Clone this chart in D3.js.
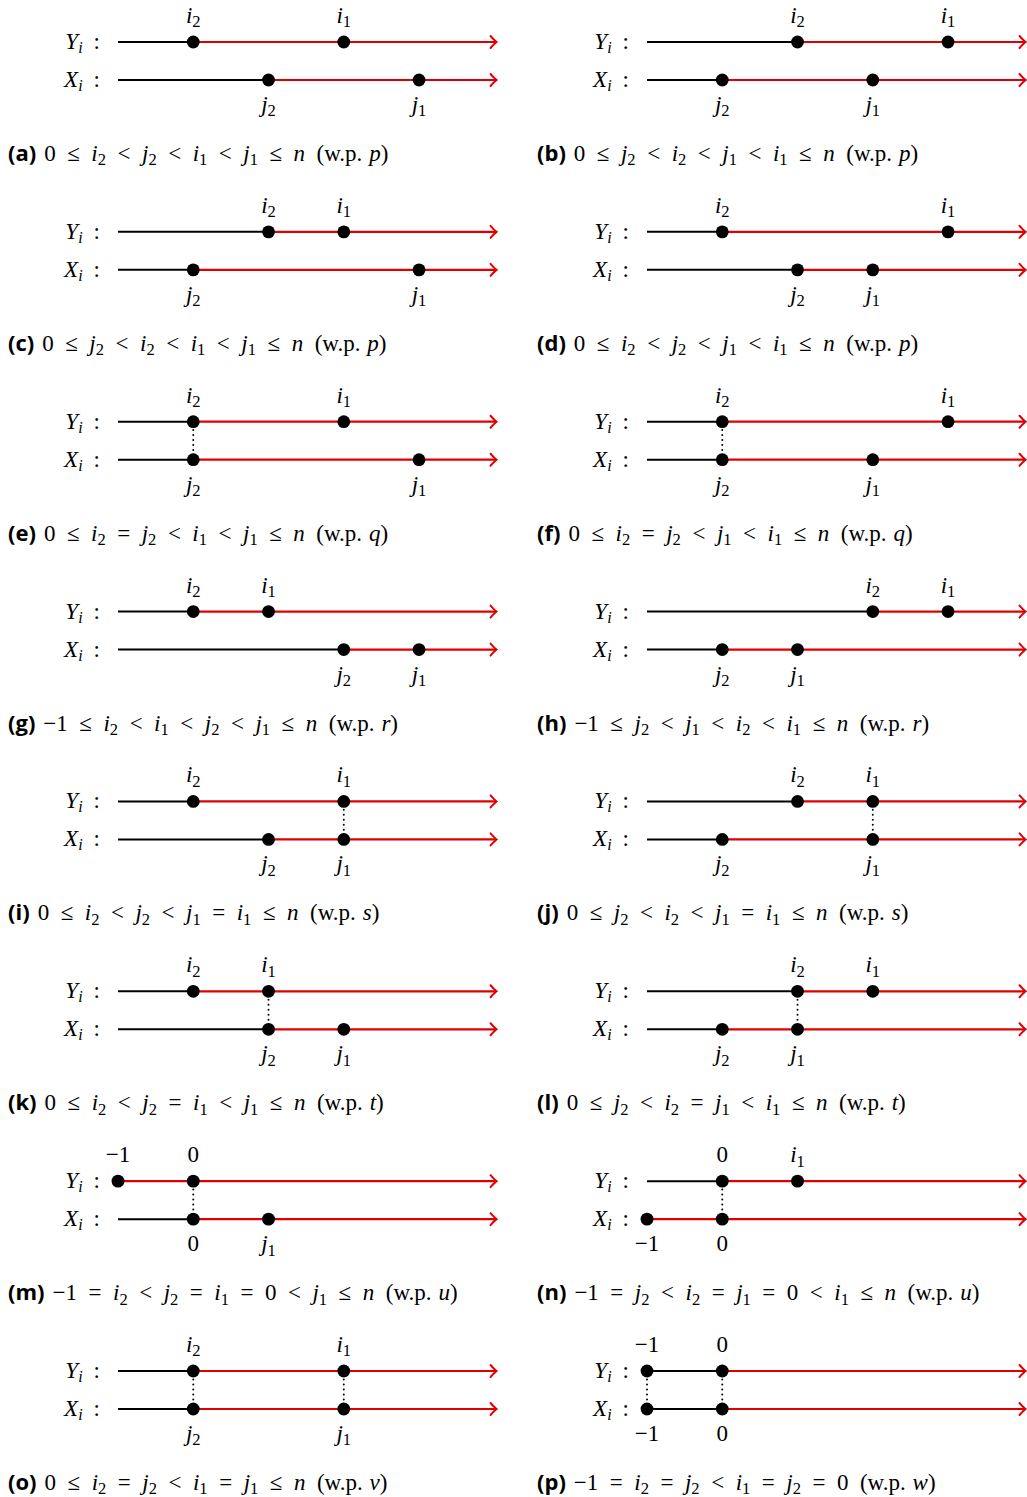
<!DOCTYPE html>
<html>
<head>
  <meta charset="utf-8">
  <title>Cases diagram</title>
  <script src="https://cdn.jsdelivr.net/npm/d3@7/dist/d3.min.js"></script>
  <style>
    body { margin: 0; background: #fff; }
    svg { display: block; }
    .m { font-family: "Liberation Serif", "DejaVu Serif", serif; }
    .tag { font-family: "Open Sans", "DejaVu Sans", sans-serif; font-weight: 700; }
  </style>
</head>
<body>
  <svg width="1027" height="1497"></svg>

  <script>
    // panel letters, left column then right column, row by row
    const letters = ["a","b","c","d","e","f","g","h","i","j","k","l","m","n","o","p"];

    // positions on the grid (0 = start of the line), and their labels
    const yPos = [[1,3],[2,4],[2,3],[1,4],[1,3],[1,4],[1,2],[3,4],[1,3],[2,3],[1,2],[2,3],[0,1],[1,2],[1,3],[0,1]];
    const yLab = [["i_2","i_1"],["i_2","i_1"],["i_2","i_1"],["i_2","i_1"],["i_2","i_1"],["i_2","i_1"],["i_2","i_1"],["i_2","i_1"],
                  ["i_2","i_1"],["i_2","i_1"],["i_2","i_1"],["i_2","i_1"],["−1","0"],["0","i_1"],["i_2","i_1"],["−1","0"]];
    const xPos = [[2,4],[1,3],[1,4],[2,3],[1,4],[1,3],[3,4],[1,2],[2,3],[1,3],[2,3],[1,2],[1,2],[0,1],[1,3],[0,1]];
    const xLab = [["j_2","j_1"],["j_2","j_1"],["j_2","j_1"],["j_2","j_1"],["j_2","j_1"],["j_2","j_1"],["j_2","j_1"],["j_2","j_1"],
                  ["j_2","j_1"],["j_2","j_1"],["j_2","j_1"],["j_2","j_1"],["0","j_1"],["−1","0"],["j_2","j_1"],["−1","0"]];
    // where the red part of each line begins
    const yRed = [1,2,2,1,1,1,1,3,1,2,1,2,0,1,1,1];
    const xRed = [2,1,1,2,1,1,3,1,2,1,2,1,1,0,1,1];
    // dotted links between the two lines
    const links = [[],[],[],[],[1],[1],[],[],[3],[3],[2],[2],[1],[1],[1,3],[0,1]];

    const captions = [
      "0 ≤ i_2 < j_2 < i_1 < j_1 ≤ n (w.p. p)",
      "0 ≤ j_2 < i_2 < j_1 < i_1 ≤ n (w.p. p)",
      "0 ≤ j_2 < i_2 < i_1 < j_1 ≤ n (w.p. p)",
      "0 ≤ i_2 < j_2 < j_1 < i_1 ≤ n (w.p. p)",
      "0 ≤ i_2 = j_2 < i_1 < j_1 ≤ n (w.p. q)",
      "0 ≤ i_2 = j_2 < j_1 < i_1 ≤ n (w.p. q)",
      "−1 ≤ i_2 < i_1 < j_2 < j_1 ≤ n (w.p. r)",
      "−1 ≤ j_2 < j_1 < i_2 < i_1 ≤ n (w.p. r)",
      "0 ≤ i_2 < j_2 < j_1 = i_1 ≤ n (w.p. s)",
      "0 ≤ j_2 < i_2 < j_1 = i_1 ≤ n (w.p. s)",
      "0 ≤ i_2 < j_2 = i_1 < j_1 ≤ n (w.p. t)",
      "0 ≤ j_2 < i_2 = j_1 < i_1 ≤ n (w.p. t)",
      "−1 = i_2 < j_2 = i_1 = 0 < j_1 ≤ n (w.p. u)",
      "−1 = j_2 < i_2 = j_1 = 0 < i_1 ≤ n (w.p. u)",
      "0 ≤ i_2 = j_2 < i_1 = j_1 ≤ n (w.p. v)",
      "−1 = i_2 = j_2 < i_1 = j_2 = 0 (w.p. w)"
    ];

    const svg = d3.select("svg");
    const red = "#e00000";
    const lineEnd = 5.03;
    const r = 6.4;

    const rowY = d3.scaleLinear().domain([0, 7]).range([42, 1371]);
    const colOff = [0, 529];

    // write a small math string as tspans: italic letters, roman digits, subscripts
    function mathText(sel, str, size) {
      const rel = ["≤", "<", "="];
      const relGap = size * 0.5, spGap = size * 0.3;
      let drop = 0, gap = 0;
      const add = (txt, italic, small) => {
        const t = sel.append("tspan").text(txt);
        if (italic) t.attr("font-style", "italic");
        if (small) t.attr("font-size", size * 0.72);
        const want = small ? size * 0.19 : 0;
        if (want !== drop) { t.attr("dy", want - drop); drop = want; }
        if (gap) { t.attr("dx", gap); gap = 0; }
      };
      str.split(" ").forEach((tok, k) => {
        let m;
        if (rel.includes(tok)) {
          gap = relGap;
          add(tok);
          gap = relGap;
          return;
        }
        if (k > 0 && !gap) gap = tok.startsWith("(") ? size * 0.5 : spGap;
        if ((m = tok.match(/^([a-z])_(\d)$/))) {
          add(m[1], true);
          add(m[2], false, true);
        } else if ((m = tok.match(/^([a-z])(\)?)$/))) {
          add(m[1], true);
          if (m[2]) add(m[2]);
        } else {
          add(tok);
        }
      });
    }

    letters.forEach((L, p) => {
      const col = p % 2, row = Math.floor(p / 2);
      const off = colOff[col];
      const x = d3.scaleLinear().domain([0, 5]).range([118 + off, 494.3 + off]);
      const y0 = rowY(row), y1 = y0 + 38;
      const g = svg.append("g");

      // row names
      [["Y", y0], ["X", y1]].forEach(([nm, yy]) => {
        const t = g.append("text").attr("class", "m").attr("x", 100 + off).attr("y", yy + 7)
          .attr("text-anchor", "end").attr("font-size", 23);
        t.append("tspan").attr("font-style", "italic").text(nm);
        t.append("tspan").attr("font-style", "italic").attr("font-size", 16).attr("dy", 4).text("i");
        t.append("tspan").attr("dy", -4).attr("dx", 11).text(":");
      });

      // lines: black up to the red start, red after, with an open arrow
      [[y0, yRed[p]], [y1, xRed[p]]].forEach(([yy, rs]) => {
        g.append("line").attr("x1", x(0)).attr("x2", x(rs)).attr("y1", yy).attr("y2", yy)
          .attr("stroke", "#000").attr("stroke-width", 2);
        g.append("line").attr("x1", x(rs)).attr("x2", x(lineEnd) - 1).attr("y1", yy).attr("y2", yy)
          .attr("stroke", red).attr("stroke-width", 2.2);
        const tip = x(lineEnd);
        g.append("path")
          .attr("d", `M${tip - 6},${yy - 6} Q${tip - 2},${yy - 1.5} ${tip},${yy} Q${tip - 2},${yy + 1.5} ${tip - 6},${yy + 6}`)
          .attr("fill", "none").attr("stroke", red).attr("stroke-width", 2).attr("stroke-linecap", "round");
      });

      // dotted links
      links[p].forEach(k => {
        g.append("line").attr("x1", x(k)).attr("x2", x(k)).attr("y1", y0 + r + 2).attr("y2", y1 - r)
          .attr("stroke", "#000").attr("stroke-width", 2).attr("stroke-linecap", "round")
          .attr("stroke-dasharray", "0 5");
      });

      // points and their labels
      yPos[p].forEach((v, k) => {
        g.append("circle").attr("cx", x(v)).attr("cy", y0).attr("r", r).attr("fill", "#000");
        const t = g.append("text").attr("class", "m").attr("x", x(v)).attr("y", y0 - 19)
          .attr("text-anchor", "middle").attr("font-size", 23);
        mathText(t, yLab[p][k], 23);
      });
      xPos[p].forEach((v, k) => {
        g.append("circle").attr("cx", x(v)).attr("cy", y1).attr("r", r).attr("fill", "#000");
        const t = g.append("text").attr("class", "m").attr("x", x(v)).attr("y", y1 + 32)
          .attr("text-anchor", "middle").attr("font-size", 23);
        mathText(t, xLab[p][k], 23);
      });

      // caption
      const c = g.append("text").attr("class", "m").attr("x", 8 + off).attr("y", y0 + 119)
        .attr("font-size", 23);
      c.append("tspan").attr("class", "tag").attr("font-size", 22).text(`(${L})`);
      const body = c.append("tspan").attr("dx", 8);
      mathText(body, captions[p], 23);
    });
  </script>
</body>
</html>
